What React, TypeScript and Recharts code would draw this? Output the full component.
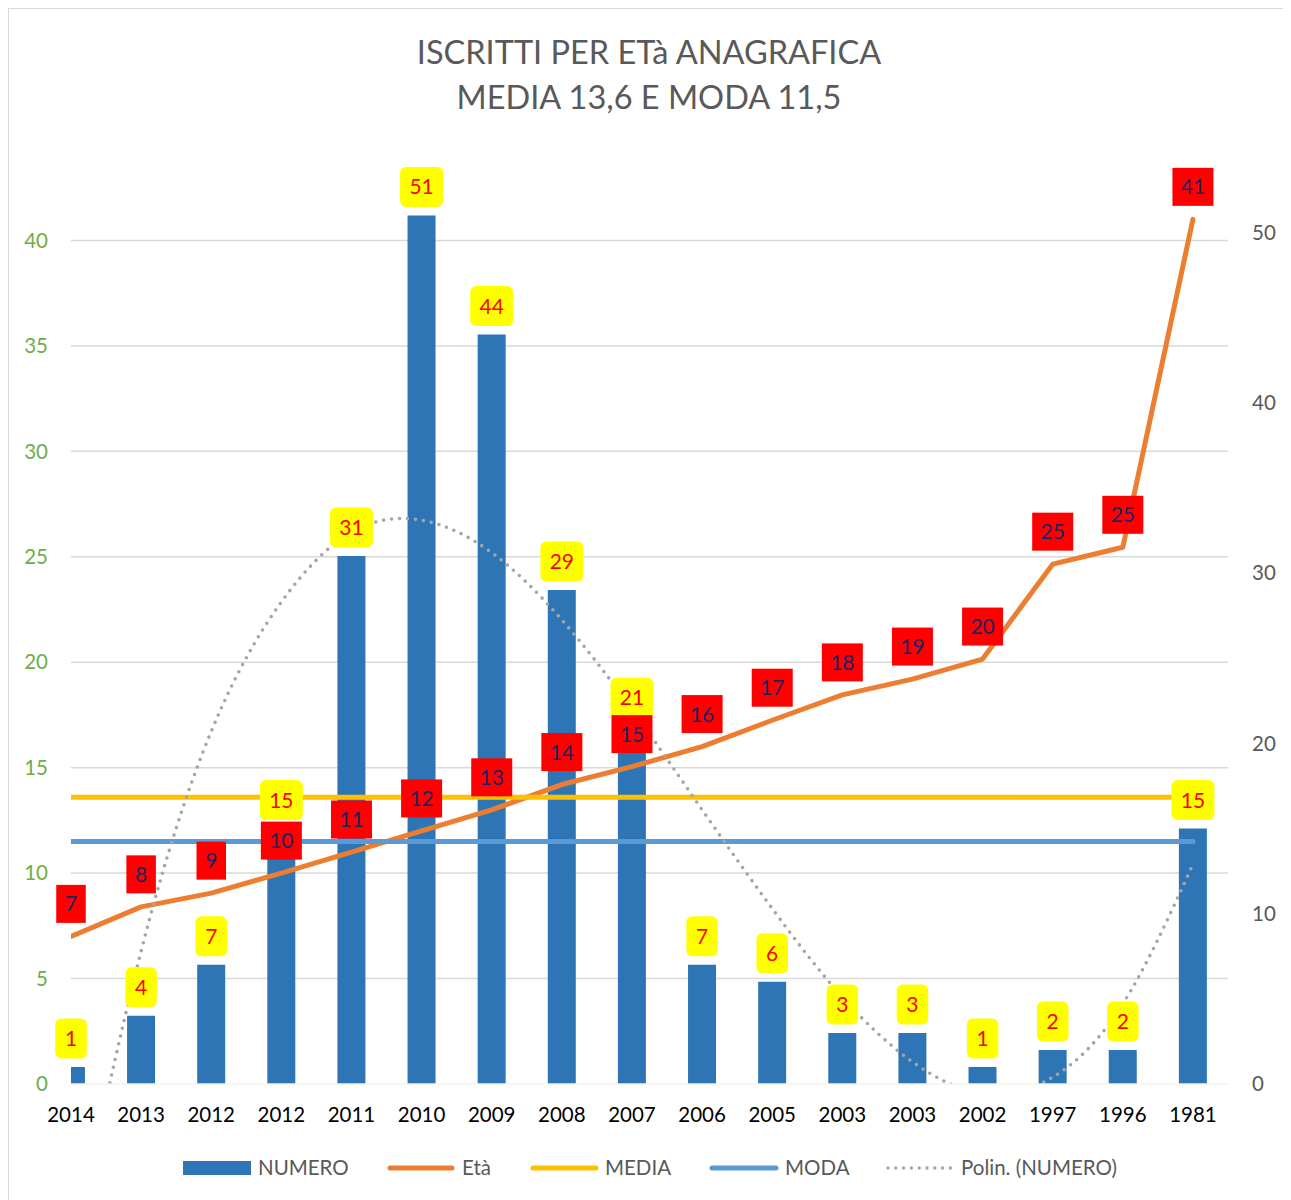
import React from 'react';
import {
  ComposedChart,
  Bar,
  Line,
  XAxis,
  YAxis,
  CartesianGrid,
  Legend,
  LabelList,
} from 'recharts';

// ---------- data ----------
const years = ['2014', '2013', '2012', '2012', '2011', '2010', '2009', '2008', '2007', '2006', '2005', '2003', '2003', '2002', '1997', '1996', '1981'];
const numero = [1, 4, 7, 15, 31, 51, 44, 29, 21, 7, 6, 3, 3, 1, 2, 2, 15];
const eta = [7, 8.4, 9.05, 10, 11, 12, 13, 14.2, 15.05, 16, 17.25, 18.45, 19.2, 20.15, 24.65, 25.45, 41];
const trendNumero = [-10.5, 7.8, 20.7, 28.3, 32.4, 33.1, 31.2, 27.25, 22.0, 16.1, 10.3, 5.1, 1.3, -0.55, 0.4, 4.7, 12.9];
const mediaValue = 13.6;
const modaValue = 11.5;
const leftTicks = [0, 5, 10, 15, 20, 25, 30, 35, 40];
const gridValues = [5, 10, 15, 20, 25, 30, 35, 40];
const rightTicks = [0, 10, 20, 30, 40, 50];
const titleLines = ['ISCRITTI PER ETà ANAGRAFICA', 'MEDIA 13,6 E MODA 11,5'];
const legendNames = ['NUMERO', 'Età', 'MEDIA', 'MODA', 'Polin. (NUMERO)'];

const data = years.map((anno, i) => ({
  idx: i,
  anno,
  numero: numero[i],
  eta: eta[i],
  media: mediaValue,
  moda: modaValue,
  trend: trendNumero[i],
}));

// ---------- styles ----------
const FONT = 'Lato, "Open Sans", sans-serif';
const C_BAR = '#2E75B6';
const C_ETA = '#ED7D31';
const C_MEDIA = '#FFC000';
const C_MODA = '#5B9BD5';
const C_TREND = '#A5A5A5';
const C_TEXT = '#595959';
const LEFT_MAX = 45;
const RIGHT_MAX = 55.72;
const X_DOMAIN: [number, number] = [0, 16.5];

const YellowLabel = (props: any) => {
  const x = props.x ?? props.viewBox?.x;
  const y = props.y ?? props.viewBox?.y;
  const v = props.value;
  if (x == null || y == null || v == null) return null;
  const s = String(Math.round(Number(v)));
  const w = s.length * 11.5 + 20;
  const h = 40;
  const cy = y - 28.5;
  return (
    <g>
      <rect x={x - w / 2} y={cy - h / 2} width={w} height={h} rx={6} ry={6} fill="#FFFF00" />
      <text x={x} y={cy} dy="0.36em" textAnchor="middle" fill="#FF0000" fontSize={21} fontFamily={FONT}>
        {s}
      </text>
    </g>
  );
};

const RedLabel = (props: any) => {
  const x = props.x ?? props.viewBox?.x;
  const y = props.y ?? props.viewBox?.y;
  const v = props.value;
  if (x == null || y == null || v == null) return null;
  const s = String(Math.round(Number(v)));
  const w = s.length * 11.5 + 18;
  const h = 38;
  const cy = y - 32.5;
  return (
    <g>
      <rect x={x - w / 2} y={cy - h / 2} width={w} height={h} fill="#FF0000" />
      <text x={x} y={cy} dy="0.36em" textAnchor="middle" fill="#1F2060" fontSize={21} fontFamily={FONT}>
        {s}
      </text>
    </g>
  );
};

// legend layout (x positions relative to chart box)
const legendLayout = [
  { sx: 174, ex: 242, tx: 249, kind: 'rect', color: C_BAR },
  { sx: 378, ex: 446, tx: 453, kind: 'line', color: C_ETA },
  { sx: 521, ex: 590, tx: 596, kind: 'line', color: C_MEDIA },
  { sx: 700, ex: 770, tx: 776, kind: 'line', color: C_MODA },
  { sx: 877, ex: 946, tx: 952, kind: 'dots', color: C_TREND },
];

const CustomLegend = () => (
  <div style={{ width: 1280, height: 40, position: 'relative' }}>
    <svg width={1280} height={40} style={{ display: 'block' }}>
      {legendLayout.map((it, i) => (
        <g key={i}>
          {it.kind === 'rect' && <rect x={it.sx} y={13} width={it.ex - it.sx} height={14} fill={it.color} />}
          {it.kind === 'line' && (
            <line x1={it.sx + 3} x2={it.ex - 3} y1={20} y2={20} stroke={it.color} strokeWidth={5} strokeLinecap="round" />
          )}
          {it.kind === 'dots' && (
            <line x1={it.sx + 2} x2={it.ex} y1={20} y2={20} stroke={it.color} strokeWidth={3.4} strokeLinecap="round" strokeDasharray="0 7.8" />
          )}
          <text x={it.tx} y={20} dy="0.36em" fill={C_TEXT} fontSize={20.5} fontFamily={FONT}>
            {legendNames[i]}
          </text>
        </g>
      ))}
    </svg>
  </div>
);

export default function App() {
  return (
    <div
      style={{
        position: 'relative',
        width: 1280,
        height: 1192,
        border: '1px solid #D9D9D9',
        background: '#FFFFFF',
        fontFamily: FONT,
      }}
    >
      <div
        style={{
          position: 'absolute',
          left: 0,
          top: 19.5,
          width: 1280,
          textAlign: 'center',
          color: C_TEXT,
          fontSize: 32.5,
          lineHeight: '45px',
          fontFamily: FONT,
          pointerEvents: 'none',
          zIndex: 2,
        }}
      >
        {titleLines.map((t, i) => (
          <div key={i}>{t}</div>
        ))}
      </div>
      <ComposedChart
        width={1280}
        height={1192}
        data={data}
        margin={{ top: 126, right: 0, bottom: 37, left: 0 }}
      >
        <CartesianGrid
          yAxisId="left"
          xAxisId="main"
          vertical={false}
          horizontalValues={gridValues}
          stroke="#D9D9D9"
          strokeWidth={1.5}
        />
        <XAxis
          xAxisId="main"
          dataKey="idx"
          type="number"
          domain={X_DOMAIN}
          allowDataOverflow
          ticks={years.map((_, i) => i)}
          interval={0}
          tickFormatter={(i: number) => years[i] ?? ''}
          tickLine={false}
          tickSize={0}
          tickMargin={23}
          axisLine={{ stroke: '#F4F4E4', strokeWidth: 1.5 }}
          tick={{ fill: '#000000', fontSize: 20.5, fontFamily: FONT }}
          height={40}
        />
        <XAxis xAxisId="lbl" dataKey="idx" type="number" domain={X_DOMAIN} hide height={0} />
        <YAxis
          yAxisId="left"
          orientation="left"
          domain={[0, LEFT_MAX]}
          ticks={leftTicks}
          interval={0}
          width={62}
          axisLine={false}
          tickLine={false}
          tickSize={0}
          tickMargin={23}
          tick={{ fill: '#70AD47', fontSize: 20.5, fontFamily: FONT }}
        />
        <YAxis
          yAxisId="right"
          orientation="right"
          domain={[0, RIGHT_MAX]}
          allowDataOverflow
          ticks={rightTicks}
          interval={0}
          width={61}
          axisLine={false}
          tickLine={false}
          tickSize={0}
          tickMargin={24}
          tick={{ fill: C_TEXT, fontSize: 20.5, fontFamily: FONT }}
        />
        <YAxis yAxisId="rlbl" orientation="right" domain={[0, RIGHT_MAX]} hide width={0} />
        <Bar
          xAxisId="main"
          yAxisId="right"
          dataKey="numero"
          name="NUMERO"
          fill={C_BAR}
          barSize={28}
          isAnimationActive={false}
        />
        <Line
          xAxisId="main"
          yAxisId="left"
          type="linear"
          dataKey="eta"
          name="Età"
          stroke={C_ETA}
          strokeWidth={5}
          strokeLinejoin="round"
          strokeLinecap="round"
          dot={false}
          activeDot={false}
          isAnimationActive={false}
        />
        <Line
          xAxisId="main"
          yAxisId="left"
          type="linear"
          dataKey="media"
          name="MEDIA"
          stroke={C_MEDIA}
          strokeWidth={5}
          strokeLinecap="round"
          dot={false}
          activeDot={false}
          isAnimationActive={false}
        />
        <Line
          xAxisId="main"
          yAxisId="left"
          type="linear"
          dataKey="moda"
          name="MODA"
          stroke={C_MODA}
          strokeWidth={5}
          strokeLinecap="round"
          dot={false}
          activeDot={false}
          isAnimationActive={false}
        />
        <Line
          xAxisId="main"
          yAxisId="right"
          type="natural"
          dataKey="trend"
          name="Polin. (NUMERO)"
          stroke={C_TREND}
          strokeWidth={3.6}
          strokeLinecap="round"
          strokeDasharray="0 8"
          dot={false}
          activeDot={false}
          isAnimationActive={false}
        />
        <Line
          xAxisId="lbl"
          yAxisId="rlbl"
          dataKey="numero"
          stroke="none"
          dot={false}
          activeDot={false}
          legendType="none"
          isAnimationActive={false}
        >
          <LabelList dataKey="numero" content={YellowLabel} />
        </Line>
        <Line
          xAxisId="lbl"
          yAxisId="left"
          dataKey="eta"
          stroke="none"
          dot={false}
          activeDot={false}
          legendType="none"
          isAnimationActive={false}
        >
          <LabelList dataKey="eta" content={RedLabel} />
        </Line>
        <Legend
          verticalAlign="bottom"
          content={CustomLegend}
          wrapperStyle={{ left: 0, top: 1139, width: 1280, height: 40 }}
        />
      </ComposedChart>
    </div>
  );
}
